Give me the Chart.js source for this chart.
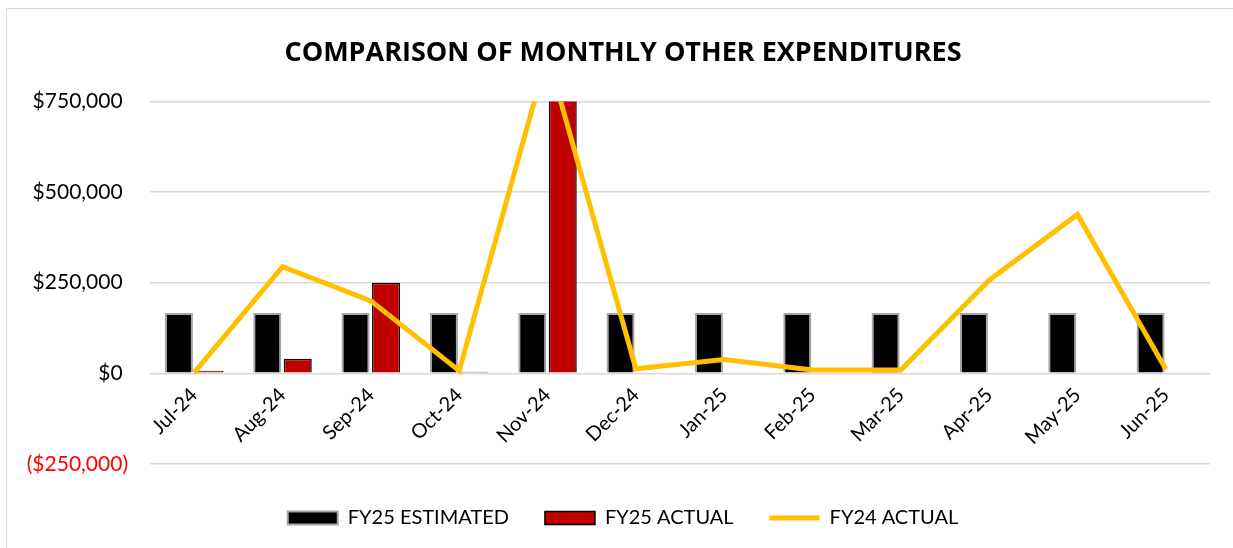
<!DOCTYPE html>
<html>
<head>
<meta charset="utf-8">
<script src="https://cdn.jsdelivr.net/npm/chart.js"></script>
<style>
  html, body { margin: 0; padding: 0; background: #fff; }
  #wrap { position: relative; width: 1233px; height: 548px; }
  #frame { position: absolute; left: 6px; top: 8px; right: -10px; bottom: -10px;
           border-top: 1px solid #d9d9d9; border-left: 1px solid #d9d9d9; }
  canvas { position: absolute; left: 0; top: 0; }
</style>
</head>
<body>
<div id="wrap">
  <div id="frame"></div>
  <canvas id="expChart" width="1233" height="548"></canvas>
</div>
<script>
const months = ["Jul-24", "Aug-24", "Sep-24", "Oct-24", "Nov-24", "Dec-24",
                "Jan-25", "Feb-25", "Mar-25", "Apr-25", "May-25", "Jun-25"];
const fy25Estimated = [166667, 166667, 166667, 166667, 166667, 166667,
                       166667, 166667, 166667, 166667, 166667, 166667];
const fy25Actual = [7500, 40500, 250000, 4600, 950000, null,
                    null, null, null, null, null, null];
const fy24Actual = [2000, 294000, 200000, 7000, 880000, 12800,
                    38000, 9000, 9000, 257000, 438000, 11000];
const yTicks = [-250000, 0, 250000, 500000, 750000];

const FONT = "Lato, 'Liberation Sans', sans-serif";

function money(v) {
  const s = "$" + Math.abs(v).toLocaleString("en-US");
  return v < 0 ? "(" + s + ")" : s + " ";
}

const ctx = document.getElementById("expChart").getContext("2d");
const chart = new Chart(ctx, {
  type: "bar",
  data: {
    labels: months,
    datasets: [
      {
        label: "FY25 ESTIMATED",
        data: fy25Estimated,
        xAxisID: "x",
        backgroundColor: "#000000",
        borderColor: "#a6a6a6",
        borderWidth: 2,
        order: 1
      },
      {
        label: "FY25 ACTUAL",
        data: fy25Actual,
        xAxisID: "x",
        backgroundColor: "#c00000",
        borderColor: "#000000",
        borderWidth: 1.5,
        order: 2
      },
      {
        type: "line",
        label: "FY24 ACTUAL",
        data: fy24Actual,
        xAxisID: "x",
        borderColor: "#ffc000",
        backgroundColor: "#ffc000",
        borderWidth: 5,
        pointRadius: 0,
        tension: 0,
        order: 0
      }
    ]
  },
  options: {
    responsive: false,
    animation: false,
    devicePixelRatio: 1,
    categoryPercentage: 0.69,
    barPercentage: 0.92,
    layout: { padding: { left: 36, right: 23, top: 0, bottom: 10 } },
    plugins: {
      tooltip: { enabled: false },
      title: {
        display: true,
        text: "COMPARISON OF MONTHLY OTHER EXPENDITURES",
        color: "#000",
        font: { family: "'Open Sans', Lato, sans-serif", size: 27, weight: "bold" },
        padding: { top: 37, bottom: 32 }
      },
      legend: {
        position: "bottom",
        labels: {
          color: "#000",
          font: { family: FONT, size: 20 },
          usePointStyle: true,
          pointStyleWidth: 50,
          boxWidth: 50,
          boxHeight: 13,
          padding: 36,
          sort: (a, b) => a.datasetIndex - b.datasetIndex,
          generateLabels: function (c) {
            const items = Chart.defaults.plugins.legend.labels.generateLabels(c);
            items.forEach(it => {
              if (it.datasetIndex === 2) {
                it.pointStyle = "line";
                it.lineWidth = 5;
                it.strokeStyle = "#ffc000";
              } else {
                it.pointStyle = "rect";
                it.lineWidth = it.datasetIndex === 0 ? 2 : 1.5;
              }
            });
            return items;
          }
        }
      }
    },
    scales: {
      x: {
        position: { y: 0 },
        grid: { display: false, drawTicks: false },
        border: { display: false },
        ticks: {
          color: "#000",
          font: { family: FONT, size: 20 },
          minRotation: 45,
          maxRotation: 45,
          padding: 10
        }
      },
      xGap: {
        type: "category",
        position: "bottom",
        grid: { display: false, drawTicks: false },
        border: { display: false },
        ticks: { display: false },
        afterFit: s => { s.height = 8; }
      },
      y: {
        min: -250000,
        max: 750000,
        afterBuildTicks: s => { s.ticks = yTicks.map(v => ({ value: v })); },
        afterFit: s => {
          s.width = 114;
          // labels reach a little left of the axis box; don't clip them
          s._computeLabelArea = () => undefined;
        },
        grid: { color: "#d9d9d9", lineWidth: 1.5, drawTicks: false },
        border: { display: false },
        ticks: {
          padding: 22,
          font: { family: FONT, size: 21 },
          color: c => (c.tick.value < 0 ? "#ff0000" : "#000"),
          callback: v => money(v)
        }
      }
    }
  }
});
</script>
</body>
</html>
